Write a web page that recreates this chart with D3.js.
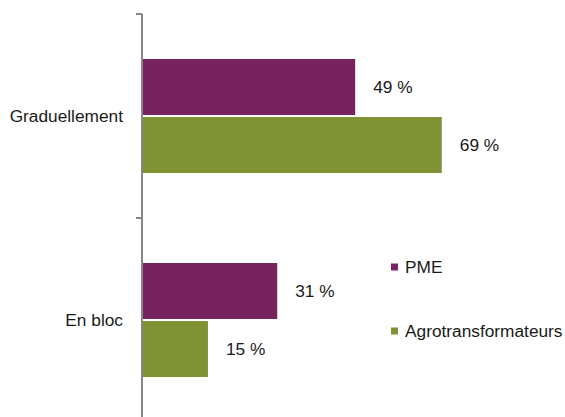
<!DOCTYPE html>
<html>
<head>
<meta charset="utf-8">
<script src="https://cdn.jsdelivr.net/npm/d3@7"></script>
<style>
  body { margin: 0; background: #fff; }
  text { font-family: "Liberation Sans", Arial, sans-serif; fill: #1a1a1a; }
</style>
</head>
<body>
<script>
const categories = ['Graduellement', 'En bloc'];
const series = ['PME', 'Agrotransformateurs'];
const pme = [49, 31];
const agro = [69, 15];
const colors = ['#77235E', '#7F9335'];

const width = 565, height = 417;
const fs = 17.3;
const svg = d3.select('body').append('svg').attr('width', width).attr('height', height);

let x = d3.scaleLinear().domain([0, 100]).range([143, 576]);
let y = d3.scaleBand().domain(categories).range([14, 422]);
let ys = d3.scaleBand().domain(series).range([45, 159]).paddingInner(0.035);

let data = [];
categories.forEach((c, i) => {
  data.push({cat: c, s: 'PME', v: pme[i]});
  data.push({cat: c, s: 'Agrotransformateurs', v: agro[i]});
});

let bars = svg.append('g');
bars.selectAll('rect')
  .data(data)
  .enter()
    .append('rect')
    .attr('x', x(0))
    .attr('y', d => y(d.cat) + ys(d.s))
    .attr('width', d => x(d.v) - x(0))
    .attr('height', ys.bandwidth())
    .attr('fill', d => colors[series.indexOf(d.s)]);

// value labels
svg.append('g').selectAll('text')
  .data(data)
  .enter()
    .append('text')
    .attr('x', d => x(d.v) + 18)
    .attr('y', d => y(d.cat) + ys(d.s) + ys.bandwidth() / 2)
    .attr('dy', '0.35em')
    .attr('font-size', fs)
    .text(d => d.v + ' %');

// axis line + ticks at category boundaries
let axis = svg.append('g').attr('stroke', '#868686').attr('stroke-width', 2);
axis.append('line').attr('x1', 142).attr('x2', 142).attr('y1', y.range()[0]).attr('y2', y.range()[1]);
categories.concat(['_end']).forEach((c, i) => {
  let yy = i < categories.length ? y(c) : y.range()[1];
  axis.append('line').attr('x1', 136).attr('x2', 142).attr('y1', yy).attr('y2', yy);
});

// category labels
svg.append('g').selectAll('text')
  .data(categories)
  .enter()
    .append('text')
    .attr('x', 123)
    .attr('y', d => y(d) + y.bandwidth() / 2)
    .attr('dy', '0.35em')
    .attr('text-anchor', 'end')
    .attr('font-size', fs)
    .text(d => d);

// legend
let legend = svg.append('g');
series.forEach((s, i) => {
  let ly = 267 + i * 64;
  legend.append('rect').attr('x', 391).attr('y', ly - 3.5).attr('width', 7).attr('height', 7).attr('fill', colors[i]);
  legend.append('text').attr('x', 405).attr('y', ly).attr('dy', '0.35em').attr('font-size', fs).text(s);
});
</script>
</body>
</html>
